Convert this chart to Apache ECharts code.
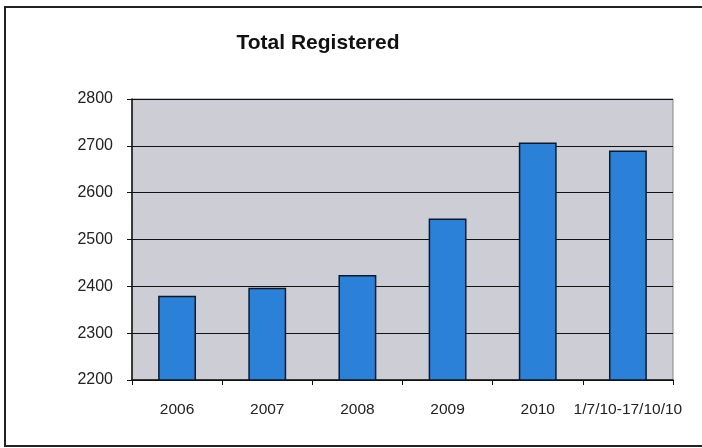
<!DOCTYPE html>
<html>
<head>
<meta charset="utf-8">
<script src="https://cdn.jsdelivr.net/npm/echarts@6/dist/echarts.min.js"></script>
<style>
  html, body { margin: 0; padding: 0; background: #fff; }
  #chart { width: 702px; height: 448px; }
</style>
</head>
<body>
<div id="chart"></div>
<script>
const categories = ['2006', '2007', '2008', '2009', '2010', '1/7/10-17/10/10']
const registered = [2380, 2397, 2424, 2545, 2707, 2690]
const yTicks = [2200, 2300, 2400, 2500, 2600, 2700, 2800]

const myChart = echarts.init(document.getElementById('chart'))
const option = {
  animation: false,
  backgroundColor: '#fff',
  graphic: [
    {
      type: 'rect',
      shape: { x: 5, y: 7, width: 702, height: 439 },
      style: { fill: 'none', stroke: '#222', lineWidth: 2 },
      silent: true,
    },
  ],
  title: {
    text: 'Total Registered',
    left: 313,
    top: 28,
    textAlign: 'center',
    textStyle: {
      fontFamily: 'Liberation Sans',
      fontSize: 21,
      fontWeight: 'bold',
      color: '#111',
    },
  },
  grid: {
    left: 132,
    right: 29,
    top: 99,
    bottom: 68,
    show: true,
    backgroundColor: '#cdcdd5',
    borderColor: '#888',
    borderWidth: 1,
  },
  xAxis: {
    type: 'category',
    data: categories,
    axisLine: { lineStyle: { color: '#111', width: 1.5 } },
    axisTick: { show: true, length: 5, lineStyle: { color: '#111' } },
    axisLabel: {
      margin: 22,
      color: '#222',
      fontFamily: 'Liberation Sans',
      fontSize: 15.5,
      interval: 0,
    },
  },
  yAxis: {
    type: 'value',
    min: yTicks[0],
    max: yTicks[yTicks.length - 1],
    interval: 100,
    axisLine: { show: true, lineStyle: { color: '#111', width: 1.5 } },
    axisTick: { show: true, length: 5, lineStyle: { color: '#111' } },
    axisLabel: {
      margin: 19,
      color: '#222',
      fontFamily: 'Liberation Sans',
      fontSize: 16,
      formatter: (v) => String(v),
    },
    splitLine: { lineStyle: { color: '#111', width: 1.2 } },
  },
  series: [
    {
      type: 'bar',
      data: registered,
      barWidth: '42%',
      itemStyle: {
        color: '#2b80d8',
        borderColor: '#0d1a2a',
        borderWidth: 1.5,
      },
    },
  ],
}
myChart.setOption(option)
</script>
</body>
</html>
